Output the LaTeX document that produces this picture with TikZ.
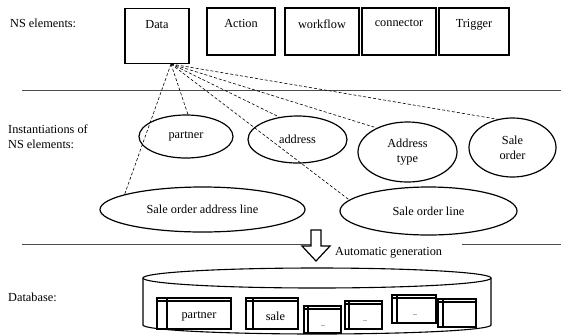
\documentclass[tikz,border=0pt]{standalone}
\usepackage{fontspec}
\setmainfont{Liberation Serif}
\usetikzlibrary{shapes.geometric}
\begin{document}
\begin{tikzpicture}[x=1pt,y=-1pt,
  txt/.style={font=\fontsize{12.3}{15}\selectfont, inner sep=0pt},
  small/.style={font=\fontsize{8}{9}\selectfont, inner sep=0pt},
  nsbox/.style={draw, line width=1.3pt, inner sep=0pt, minimum height=47pt},
  inst/.style={draw, ellipse, line width=1.2pt, inner sep=0pt, align=center,
    font=\fontsize{12.3}{15}\selectfont},
  dl/.style={dash pattern=on 3pt off 2pt, line width=0.6pt},
  sepline/.style={line width=1pt, draw=black!70},
  tbl/.style={line width=1.1pt}]
\useasboundingbox (0,0) rectangle (561,335);

% section labels
\node[txt, anchor=west] (lns) at (10,23) {NS elements:};
\node[txt, anchor=west, align=left] (linst) at (8,137) {Instantiations of\\NS elements:};
\node[txt, anchor=west] (ldb) at (8,297) {Database:};

% NS element boxes
\node[nsbox, minimum width=64pt, minimum height=55pt,
  label={[txt, anchor=north, yshift=-12pt]north:Data}] (data) at (157,36) {};
\node[nsbox, minimum width=68pt,
  label={[txt, anchor=north, yshift=-12pt]north:Action}] (action) at (241,31.5) {};
\node[nsbox, minimum width=74pt,
  label={[txt, anchor=north, yshift=-12pt]north:workflow}] (workflow) at (322,31.5) {};
\node[nsbox, minimum width=74pt,
  label={[txt, anchor=north, yshift=-12pt]north:connector}] (connector) at (399,31.5) {};
\node[nsbox, minimum width=70pt,
  label={[txt, anchor=north, yshift=-12pt]north:Trigger}] (trigger) at (474,31.5) {};

% separators
\draw[sepline] (22,90) -- (561,90);
\draw[sepline] (22,244) -- (312,244);
\draw[sepline] (462,244) -- (561,244);

% instantiations
\node[inst, minimum width=94pt, minimum height=43pt] (partner) at (186,136.5) {partner};
\node[inst, minimum width=99pt, minimum height=47pt] (address) at (297.5,139.5) {address};
\node[inst, minimum width=99pt, minimum height=60pt] (addrtype) at (407.5,152) {Address\\type};
\node[inst, minimum width=87pt, minimum height=59pt] (saleorder) at (512.5,147.5) {Sale\\order};
\node[inst, minimum width=205pt, minimum height=45pt] (saol) at (202.5,209.5) {Sale order address line};
\node[inst, minimum width=177pt, minimum height=48pt] (sol) at (428.5,211) {Sale order line};

% dashed links from Data
\coordinate (src) at (171,64);
\draw[dl] (src) -- (saol.169);
\draw[dl] (src) -- (partner.85);
\draw[dl] (src) -- (sol.172);
\draw[dl] (src) -- (address.129);
\draw[dl] (src) -- (addrtype.142);
\draw[dl] (src) -- (saleorder.118);

% generation arrow
\draw[line width=1.2pt, fill=white] (311,230) -- (321,230) -- (321,246) -- (330,246)
  -- (316,261) -- (302,246) -- (311,246) -- cycle;
\node[txt, anchor=west] (autogen) at (335,253) {Automatic generation};

% database cylinder
\draw[line width=1.1pt] (317,278) ellipse [x radius=174pt, y radius=10pt];
\draw[line width=1.1pt] (143,278) -- (143,325)
  arc[start angle=180, end angle=360, x radius=174pt, y radius=9pt] -- (491,278);

% tables
\draw[tbl] (157,298) rectangle (231,329);
\draw[tbl] (157,301) -- (231,301);
\draw[tbl] (167,298) -- (167,329);
\node[txt] (tpartner) at (199,316) {partner};

\draw[tbl] (246,298) rectangle (298,329);
\draw[tbl] (246,301) -- (298,301);
\draw[tbl] (253,298) -- (253,329);
\node[txt] (tsale) at (275.5,316) {sale};

\draw[tbl] (304,306) rectangle (341,333);
\draw[tbl] (304,309) -- (341,309);
\draw[tbl] (308,306) -- (308,333);
\node[small] (t3) at (323,326) {..};

\draw[tbl] (345,301) rectangle (382,329);
\draw[tbl] (345,304) -- (382,304);
\draw[tbl] (349,301) -- (349,329);
\node[small] (t4) at (365,321) {..};

\draw[tbl] (392,295) rectangle (436,323);
\draw[tbl] (392,298) -- (436,298);
\draw[tbl] (397,295) -- (397,323);
\node[small] (t5) at (415,315) {..};

\draw[tbl] (438,299) rectangle (476,327);
\draw[tbl] (438,302) -- (476,302);
\draw[tbl] (443,299) -- (443,327);
\end{tikzpicture}
\end{document}
